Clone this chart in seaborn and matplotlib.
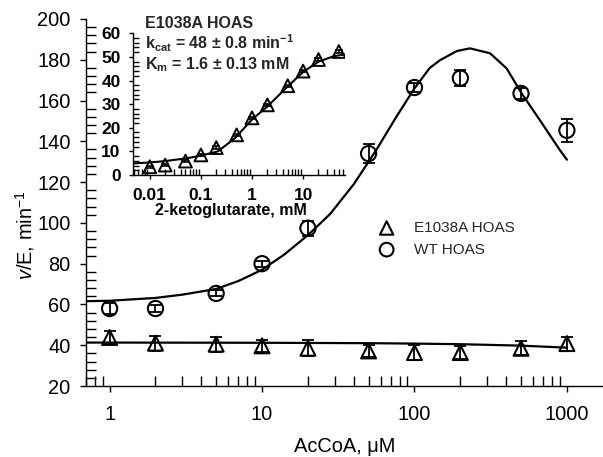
import numpy as np
import pandas as pd
import seaborn as sns
import matplotlib.pyplot as plt
from matplotlib.ticker import MultipleLocator, LogLocator, NullFormatter, FixedLocator

# main panel: AcCoA (uM) vs rate
accoa = [1, 2, 5, 10, 20, 50, 100, 200, 500, 1000]
wt_rate = [58, 58, 65.4, 80, 97.4, 134, 166.4, 171, 163.5, 145.4]
wt_err = [2.5, 1.5, 1.5, 1.5, 3.7, 4.5, 2.0, 4.0, 2.7, 5.7]
mut_rate = [43.8, 41.0, 40.5, 39.7, 38.5, 37.2, 36.4, 36.4, 38.5, 40.8]
mut_err = [3.4, 3.7, 3.7, 3.1, 3.9, 3.0, 3.5, 3.3, 3.4, 3.4]

# fitted curves
wt_fit_x = [0.7, 1, 2, 3, 5, 7, 10, 14, 20, 28, 40, 56, 76, 100, 126, 147, 190, 231, 313, 402, 505, 666, 901, 1000]
wt_fit_y = [61.6, 61.8, 63.2, 64.8, 67.6, 71.5, 77, 84.5, 94, 104.4, 119, 135.6, 152, 166, 176, 179.8, 184.3, 185.6, 183.2, 175.8, 163.5, 150.3, 135.6, 131]
mut_fit_x = [0.7, 1, 10, 50, 100, 200, 500, 1000]
mut_fit_y = [41.3, 41.3, 41.2, 41.0, 40.8, 40.5, 39.8, 38.8]

# inset: 2-ketoglutarate (mM)
akg = [0.01, 0.02, 0.05, 0.1, 0.2, 0.5, 1, 2, 5, 10, 20, 50]
akg_rate = [3.5, 4.2, 5.9, 8.5, 11.6, 17, 24.2, 29.7, 37.8, 44, 48.9, 52.3]
akg_err = [0.5] * 12
akg_fit_x = [0.0047, 0.01, 0.02, 0.054, 0.1, 0.215, 0.46, 1.0, 2.0, 5.0, 10, 20, 40, 66]
akg_fit_y = [4.9, 5.3, 5.9, 7.1, 8.2, 10.0, 15.5, 23.5, 29, 37.5, 43.6, 48, 50.3, 51.1]

sns.set_theme(style="ticks")
plt.rcParams["font.family"] = ["Liberation Sans", "DejaVu Sans"]
plt.rcParams["mathtext.fontset"] = "custom"
plt.rcParams["mathtext.it"] = "Liberation Sans:italic"
plt.rcParams["mathtext.rm"] = "Liberation Sans"
plt.rcParams["mathtext.default"] = "regular"

W, H = 603, 457
fig = plt.figure(figsize=(W / 100, H / 100), dpi=100)
ax = fig.add_axes([86 / W, 1 - 386 / H, (W - 86) / W, (386 - 19) / H])

sns.lineplot(x=wt_fit_x, y=wt_fit_y, ax=ax, color="black", lw=1.6, sort=False, estimator=None)
sns.lineplot(x=mut_fit_x, y=mut_fit_y, ax=ax, color="black", lw=1.6, sort=False, estimator=None)
ax.errorbar(accoa, mut_rate, yerr=mut_err, fmt="none", ecolor="black", elinewidth=1.3, capsize=4.5, capthick=1.3)
ax.errorbar(accoa, wt_rate, yerr=wt_err, fmt="none", ecolor="black", elinewidth=1.3, capsize=4.5, capthick=1.3)
sns.scatterplot(x=accoa, y=mut_rate, ax=ax, marker="^", s=115, color="black",
                facecolor="none", edgecolor="black", linewidth=1.5, label="E1038A HOAS", zorder=5)
sns.scatterplot(x=accoa, y=wt_rate, ax=ax, marker="o", s=120, color="black",
                facecolor="none", edgecolor="black", linewidth=1.5, label="WT HOAS", zorder=5)

ax.set_xscale("log")
ax.set_xlim(0.7, 1725)
ax.set_ylim(20, 200)
ax.xaxis.set_major_locator(FixedLocator([1, 10, 100, 1000]))
ax.xaxis.set_major_formatter(plt.FuncFormatter(lambda v, p: f"{v:g}"))
ax.xaxis.set_minor_locator(LogLocator(base=10, subs=np.arange(2, 10)))
ax.xaxis.set_minor_formatter(NullFormatter())
ax.yaxis.set_major_locator(MultipleLocator(20))
ax.yaxis.set_minor_locator(MultipleLocator(4))
ax.tick_params(which="major", direction="out", length=4, width=1, labelsize=14.4, color="black", labelcolor="black")
ax.tick_params(axis="x", which="major", pad=10)
ax.tick_params(axis="y", which="major", pad=7)
ax.tick_params(which="minor", direction="in", length=7, width=1, color="black")
for s in ["top", "right"]:
    ax.spines[s].set_visible(False)
for s in ["left", "bottom"]:
    ax.spines[s].set_color("black")
    ax.spines[s].set_linewidth(1)
ax.set_xlabel("AcCoA, μM", fontsize=14.4, color="black")
ax.set_ylabel("$\\mathit{v}$/E, min$^{-1}$", fontsize=14.4, color="black")
ax.xaxis.set_label_coords(0.5, -0.14)
ax.yaxis.set_label_coords(-0.095, 0.41)

ax.legend(loc="upper left", bbox_to_anchor=(379 / W, 1 - 221 / H), bbox_transform=fig.transFigure,
          frameon=False, fontsize=11, handlelength=1.0, handletextpad=1.3, labelspacing=0.5,
          borderpad=0, borderaxespad=0, markerscale=0.9)

# inset
axin = fig.add_axes([133 / W, 1 - 175 / H, (345 - 133) / W, (175 - 33.3) / H])
axin.patch.set_alpha(0)
sns.lineplot(x=akg_fit_x, y=akg_fit_y, ax=axin, color="black", lw=1.5, sort=False, estimator=None)
axin.errorbar(akg, akg_rate, yerr=akg_err, fmt="none", ecolor="black", elinewidth=1.2, capsize=3, capthick=1.2)
sns.scatterplot(x=akg, y=akg_rate, ax=axin, marker="^", s=85, color="black",
                facecolor="none", edgecolor="black", linewidth=1.4, zorder=5)
axin.set_xscale("log")
axin.set_xlim(0.0047, 66)
axin.set_ylim(0, 60)
axin.xaxis.set_major_locator(FixedLocator([0.01, 0.1, 1, 10]))
axin.xaxis.set_major_formatter(plt.FuncFormatter(lambda v, p: f"{v:g}"))
axin.xaxis.set_minor_locator(LogLocator(base=10, subs=np.arange(2, 10)))
axin.xaxis.set_minor_formatter(NullFormatter())
axin.yaxis.set_major_locator(MultipleLocator(10))
axin.yaxis.set_minor_locator(MultipleLocator(2))
axin.tick_params(which="major", direction="out", length=3, width=1, labelsize=12.5, color="black", labelcolor="black")
axin.tick_params(axis="y", which="major", pad=6)
axin.tick_params(axis="x", which="major", pad=6)
axin.tick_params(which="minor", direction="in", length=4, width=1, color="black")
for s in ["top", "right"]:
    axin.spines[s].set_visible(False)
for s in ["left", "bottom"]:
    axin.spines[s].set_color("black")
    axin.spines[s].set_linewidth(1)
plt.setp(axin.get_xticklabels() + axin.get_yticklabels(), fontweight="bold")
axin.set_xlabel("2-ketoglutarate, mM", fontsize=11.5, fontweight="bold", color="black")
axin.xaxis.set_label_coords(0.46, -0.2)

fig.text(145 / W, 1 - 23 / H, "E1038A HOAS", fontsize=11.5, fontweight="bold", va="center", ha="left")
fig.text(145 / W, 1 - 43 / H, "k$_{cat}$ = 48 ± 0.8 min$^{-1}$", fontsize=11.5, fontweight="bold", va="center", ha="left")
fig.text(145 / W, 1 - 65 / H, "K$_{m}$ = 1.6 ± 0.13 mM", fontsize=11.5, fontweight="bold", va="center", ha="left")

fig.savefig("out.png", dpi=100, facecolor="white")
